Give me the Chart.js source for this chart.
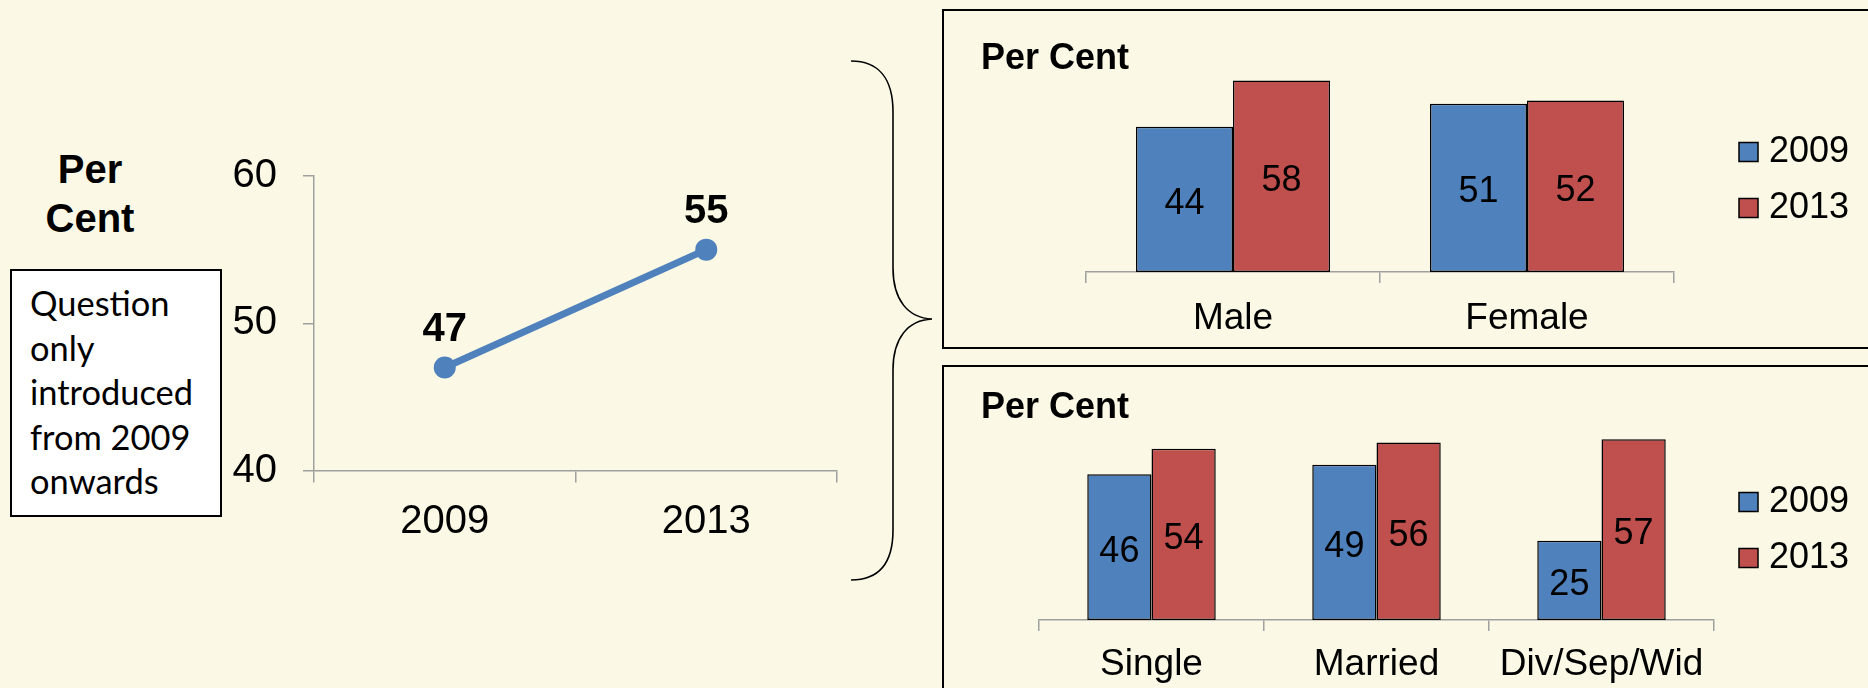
<!DOCTYPE html>
<html>
<head>
<meta charset="utf-8">
<script src="https://cdn.jsdelivr.net/npm/chart.js@4.4.1/dist/chart.umd.min.js"></script>
<style>
  html, body { margin:0; padding:0; }
  body { width:1868px; height:688px; overflow:hidden; position:relative; background:#fbf9e5; font-family:"Liberation Sans", Arial, sans-serif; }
  canvas { position:absolute; left:0; top:0; }
  .panel { position:absolute; border:2px solid #000; box-sizing:border-box; }
  #perCentLeft { position:absolute; left:0; width:180px; text-align:center; font-weight:bold; font-size:40px; line-height:49px; color:#000; }
  #noteBox { position:absolute; left:10px; top:269px; width:212px; height:248px; border:2px solid #000; background:#fff; box-sizing:border-box; }
  #noteBox div { position:absolute; left:18px; white-space:nowrap; color:#000; font-family:Lato, "Open Sans", sans-serif; }
  #brace { position:absolute; left:0; top:0; }
</style>
</head>
<body>
<svg id="brace" width="1868" height="688">
  <path d="M851 61 C878 61 893 78 893 112 L893 268 C893 300 908 318 932 319 C908 320 893 338 893 370 L893 530 C893 564 878 580 851 580" fill="none" stroke="#000" stroke-width="1.6"/>
</svg>
<div class="panel" style="left:942px; top:9px; width:1000px; height:340px;"></div>
<div class="panel" style="left:942px; top:365px; width:1000px; height:400px;"></div>
<div id="perCentLeft">Per<br>Cent</div>
<div id="noteBox"></div>
<canvas id="lineChart" width="1868" height="688"></canvas>
<canvas id="sexChart" width="1868" height="688"></canvas>
<canvas id="maritalChart" width="1868" height="688"></canvas>
<script>
// ---------- data ----------
const years = ['2009', '2013'];
const overallValues = [47, 55];
const lineTicks = [40, 50, 60];

const sexCategories = ['Male', 'Female'];
const sex2009 = [44, 51];
const sex2013 = [58, 52];

const maritalCategories = ['Single', 'Married', 'Div/Sep/Wid'];
const marital2009 = [46, 49, 25];
const marital2013 = [54, 56, 57];

const seriesLabels = ['2009', '2013'];
const noteLines = ['Question', 'only', 'introduced', 'from 2009', 'onwards'];
const panelTitle = 'Per Cent';

// ---------- styles ----------
const FONT = '"Liberation Sans", Arial, sans-serif';
const BLUE = '#4f81bd';
const RED = '#c0504d';
const AXIS = '#a0a0a0';

// left text
const pcl = document.getElementById('perCentLeft');
pcl.style.top = (183 - (2.15 + 0.905 * 40)) + 'px';

// note box text
(function () {
  const c = document.createElement('canvas').getContext('2d');
  c.font = '36px Lato';
  const w = c.measureText('introduced').width;
  const size = 36 * 163 / w;
  c.font = size + 'px Lato';
  const m = c.measureText('Hg');
  const asc = m.fontBoundingBoxAscent || size * 0.987;
  const box = document.getElementById('noteBox');
  noteLines.forEach((t, i) => {
    const d = document.createElement('div');
    d.textContent = t;
    d.style.fontSize = size + 'px';
    d.style.lineHeight = '1';
    const baseline = 320 + i * 44.5;
    d.style.top = (baseline - 271 - asc) + 'px';
    box.appendChild(d);
  });
})();

// ---------- plugins ----------
const barValueLabels = {
  id: 'barValueLabels',
  afterDatasetsDraw(chart) {
    const ctx = chart.ctx;
    ctx.save();
    ctx.font = '36px ' + FONT;
    ctx.fillStyle = '#000';
    ctx.textAlign = 'center';
    ctx.textBaseline = 'middle';
    chart.data.datasets.forEach((ds, di) => {
      const meta = chart.getDatasetMeta(di);
      meta.data.forEach((bar, i) => {
        const p = bar.getProps(['x', 'y', 'base'], true);
        ctx.fillText(String(ds.data[i]), p.x, (p.y + p.base) / 2 + 4.5);
      });
    });
    ctx.restore();
  }
};

const pointValueLabels = {
  id: 'pointValueLabels',
  afterDatasetsDraw(chart) {
    const ctx = chart.ctx;
    ctx.save();
    ctx.font = 'bold 40px ' + FONT;
    ctx.fillStyle = '#000';
    ctx.textAlign = 'center';
    ctx.textBaseline = 'middle';
    chart.data.datasets.forEach((ds, di) => {
      const meta = chart.getDatasetMeta(di);
      meta.data.forEach((pt, i) => {
        ctx.fillText(String(ds.data[i]), pt.x, pt.y - 38);
      });
    });
    ctx.restore();
  }
};

Chart.defaults.font.family = FONT;
Chart.defaults.color = '#000';

// ---------- line chart ----------
new Chart(document.getElementById('lineChart'), {
  type: 'line',
  data: {
    labels: years,
    datasets: [{
      data: overallValues,
      borderColor: BLUE,
      backgroundColor: BLUE,
      borderWidth: 7,
      pointRadius: 11,
      pointBorderWidth: 0,
      pointBackgroundColor: BLUE,
      fill: false,
      tension: 0,
      clip: false
    }]
  },
  options: {
    responsive: false, animation: false, devicePixelRatio: 1, events: [],
    layout: { padding: { left: 0, top: 176, right: 1031, bottom: 137.4 } },
    plugins: { legend: { display: false }, tooltip: { enabled: false } },
    scales: {
      x: {
        offset: true,
        grid: { display: true, offset: true, drawOnChartArea: false, drawTicks: true, tickLength: 12, color: AXIS, lineWidth: 1.5 },
        border: { display: true, color: AXIS, width: 1.5 },
        ticks: { font: { size: 40, lineHeight: 1 }, color: '#000', padding: 19 },
        afterFit: s => { s.height = 80; }
      },
      y: {
        min: lineTicks[0], max: lineTicks[lineTicks.length - 1],
        afterBuildTicks: s => { s.ticks = lineTicks.map(v => ({ value: v })); },
        grid: { display: true, drawOnChartArea: false, drawTicks: true, tickLength: 11, color: AXIS, lineWidth: 1.5 },
        border: { display: true, color: AXIS, width: 1.5 },
        ticks: { font: { size: 40, lineHeight: 1 }, color: '#000', padding: 26 },
        afterFit: s => { s.width = 314; }
      }
    }
  },
  plugins: [pointValueLabels]
});

// ---------- bar charts ----------
function barChart(id, cats, d09, d13, cfg) {
  return new Chart(document.getElementById(id), {
    type: 'bar',
    data: {
      labels: cats,
      datasets: [
        { label: seriesLabels[0], data: d09, backgroundColor: BLUE, borderColor: '#000', borderWidth: 1.5, borderSkipped: false },
        { label: seriesLabels[1], data: d13, backgroundColor: RED, borderColor: '#000', borderWidth: 1.5, borderSkipped: false }
      ]
    },
    options: {
      responsive: false, animation: false, devicePixelRatio: 1, events: [],
      categoryPercentage: cfg.catPct, barPercentage: 1,
      layout: { padding: cfg.padding },
      plugins: {
        tooltip: { enabled: false },
        title: {
          display: true, text: panelTitle, align: 'start', color: '#000',
          font: { size: 36, weight: 'bold', lineHeight: 0.8 },
          padding: cfg.titlePadding
        },
        legend: {
          position: 'right',
          maxWidth: 130,
          labels: { boxWidth: 19, boxHeight: 19, padding: 20, color: '#000', textAlign: 'right', font: { size: 36 } }
        }
      },
      scales: {
        x: {
          offset: true,
          grid: { display: true, offset: true, drawOnChartArea: false, drawTicks: true, tickLength: 11, color: AXIS, lineWidth: 1.5 },
          border: { display: true, color: AXIS, width: 1.5 },
          ticks: { font: { size: 37, lineHeight: 1 }, color: '#000', padding: cfg.tickPad },
          afterFit: s => { s.height = cfg.xHeight; }
        },
        y: {
          min: 0, max: 60, display: true,
          ticks: { display: false }, grid: { display: false }, border: { display: false },
          afterFit: s => { s.width = cfg.yLeft; }
        },
        y2: {
          type: 'linear', position: 'right', display: true,
          ticks: { display: false }, grid: { display: false }, border: { display: false },
          afterFit: s => { s.width = cfg.yRight; }
        }
      }
    },
    plugins: [barValueLabels]
  });
}

barChart('sexChart', sexCategories, sex2009, sex2013, {
  catPct: 0.66,
  padding: { left: 981, right: 19, top: 10, bottom: 338 },
  titlePadding: { top: 34.6, bottom: 0.6 },
  tickPad: 17.2, xHeight: 78, yLeft: 105, yRight: 45
});

barChart('maritalChart', maritalCategories, marital2009, marital2013, {
  catPct: 0.571,
  padding: { left: 981, right: 19, top: 368, bottom: -4 },
  titlePadding: { top: 25.6, bottom: 7.4 },
  tickPad: 15.2, xHeight: 72, yLeft: 58, yRight: 5
});
</script>
</body>
</html>
